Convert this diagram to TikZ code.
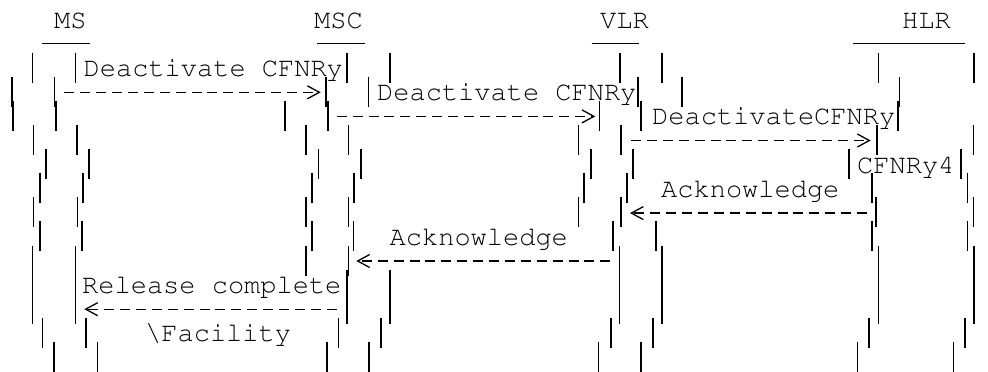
\documentclass[tikz,border=0pt]{standalone}
\usepackage[T1,TU]{fontenc}
\usepackage{tikz}
\usetikzlibrary{arrows.meta}
\newcommand{\asciifont}{\fontencoding{T1}\fontfamily{pcr}\fontsize{27}{30}\selectfont}

\begin{document}
\begin{tikzpicture}[x=1pt, y=-1pt,
  bar/.style={line width=1.6pt},
  uline/.style={line width=1.4pt},
  msg/.style={line width=1.3pt, dash pattern=on 10pt off 5.9pt, -{Straight Barb[length=12pt,width=13pt]}},
  lab/.style={font=\asciifont, inner sep=0pt, anchor=base west}
]
\useasboundingbox (0,0) rectangle (988,372);
\node[lab] (ms)  at (54,28)  {MS};
\node[lab] (msc) at (314,28) {MSC};
\node[lab] (vlr) at (600,28) {VLR};
\node[lab] (hlr) at (902,28) {HLR};
\draw[uline] (41.7,43.3) -- (90,43.3);
\draw[uline] (316.7,43.3) -- (365,43.3);
\draw[uline] (591.7,43.3) -- (639.3,43.3);
\draw[uline] (853,43.3) -- (965,43.3);
\foreach \r/\a/\b in {0/32.3/75.3,1/11.7/54.3,2/12.7/55.7,3/33.3/76.7,4/46/88.7,5/40/82.7,6/33.3/77.3,
                      7/40/81.7,8/32.3/75.3,9/32.3/75.3,10/32.3/75.3,11/42.3/85.7,12/54/97.3} {
  \draw[bar] (\a,{67.7+24.1*\r-15}) -- ++(0,30);
  \draw[bar] (\b,{67.7+24.1*\r-15}) -- ++(0,30);
}
\foreach \r/\a/\b in {0/346.7/390,1/325.7/368.3,2/285/327.7,3/306/348.3,4/318.3/360.7,5/311.7/354,6/306/348.3,
                      7/311.7/353.3,8/306/348.3,9/346.7/390,10/346.7/390,11/338.3/380.7,12/326.7/369} {
  \draw[bar] (\a,{67.7+24.1*\r-15}) -- ++(0,30);
  \draw[bar] (\b,{67.7+24.1*\r-15}) -- ++(0,30);
}
\foreach \r/\a/\b in {0/620/661.7,1/638/681.7,2/599.3/641,3/578.3/621,4/590.7/632.7,5/584/626.7,6/578.3/621,
                      7/612.7/656,8/619.3/661.7,9/619.3/661.7,10/619.3/661.7,11/610.7/652.7,12/598.3/641} {
  \draw[bar] (\a,{67.7+24.1*\r-15}) -- ++(0,30);
  \draw[bar] (\b,{67.7+24.1*\r-15}) -- ++(0,30);
}
\foreach \r/\a/\b in {0/878.3/974,3/876.7/973.3,4/849/960.7,5/871.7/967.3,6/876/973.3,
                      7/871.7/967.3,8/878.3/974,9/878.3/974,10/878.3/974,11/869/965,12/857.3/953.3} {
  \draw[bar] (\a,{67.7+24.1*\r-15}) -- ++(0,30);
  \draw[bar] (\b,{67.7+24.1*\r-15}) -- ++(0,30);
}
\draw[bar] (899.3,76.8) -- ++(0,30);
\draw[bar] (897.7,100.9) -- ++(0,30);

\node[lab] (deact1) at (83.5,76.7)  {Deactivate CFNRy};
\node[lab] (deact2) at (377,100.8)  {Deactivate CFNRy};
\node[lab] (deact3) at (652,124.9)  {DeactivateCFNRy};
\node[lab] (cfnry4) at (857,173.1)  {CFNRy4};
\node[lab] (ack1)   at (661,197.2)  {Acknowledge};
\node[lab] (ack2)   at (389.5,245.4) {Acknowledge};
\node[lab] (relc)   at (82,293.6)   {Release complete};
\node[lab] (facil)  at (145,341.8)  {\textbackslash Facility};

\coordinate (ms1)   at (54.3,92.3);
\coordinate (msc1)  at (325.7,92.3);
\coordinate (msc2)  at (327.7,116.4);
\coordinate (vlr2)  at (599.3,116.4);
\coordinate (vlr3)  at (621,140.5);
\coordinate (hlr3)  at (876.7,140.5);
\coordinate (hlr6)  at (876,213.1);
\coordinate (vlr6)  at (621,213.1);
\coordinate (vlr8)  at (619.3,261);
\coordinate (msc8)  at (348.3,261);
\coordinate (msc10) at (346.7,309.2);
\coordinate (ms10)  at (75.3,309.2);

\draw[msg] ([xshift=10pt]ms1) -- ([xshift=-5pt]msc1);
\draw[msg] ([xshift=9pt]msc2) -- ([xshift=-4pt]vlr2);
\draw[msg] ([xshift=10pt]vlr3) -- ([xshift=-6pt]hlr3);
\draw[msg] ([xshift=-9pt]hlr6) -- ([xshift=9pt]vlr6);
\draw[msg] ([xshift=-9pt]vlr8) -- ([xshift=8pt]msc8);
\draw[msg] ([xshift=-10pt]msc10) -- ([xshift=9pt]ms10);
\end{tikzpicture}
\end{document}
